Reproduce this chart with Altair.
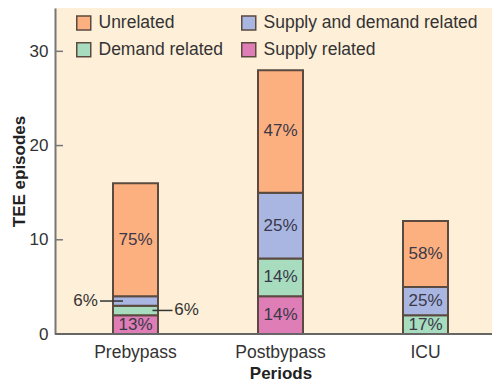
import altair as alt
import pandas as pd

periods = ["Prebypass", "Postbypass", "ICU"]
stack_order = ["Supply related", "Demand related", "Supply and demand related", "Unrelated"]
legend_order = ["Unrelated", "Demand related", "Supply and demand related", "Supply related"]
colors = {"Unrelated": "#FDB07F", "Supply and demand related": "#A9B6E2",
          "Demand related": "#A7DCBF", "Supply related": "#DF7DB6"}

supply = [2, 4, 0]
demand = [1, 4, 2]
both = [1, 7, 3]
unrelated = [12, 13, 7]

supply_pct = ["13%", "14%", ""]
demand_pct = ["6%", "14%", "17%"]
both_pct = ["6%", "25%", "25%"]
unrelated_pct = ["75%", "47%", "58%"]

y_ticks = [0, 10, 20, 30]

values = {"Supply related": supply, "Demand related": demand,
          "Supply and demand related": both, "Unrelated": unrelated}
pcts = {"Supply related": supply_pct, "Demand related": demand_pct,
        "Supply and demand related": both_pct, "Unrelated": unrelated_pct}

rows = []
for i, p in enumerate(periods):
    base = 0
    for k, cat in enumerate(stack_order):
        v = values[cat][i]
        rows.append({"period": p, "cat": cat, "order": k, "v": v,
                     "y0": base, "y1": base + v, "mid": base + v / 2,
                     "pct": pcts[cat][i]})
        base += v
df = pd.DataFrame(rows)
bars_df = df[df.v > 0]

left_key = ("Prebypass", "Supply and demand related")
right_key = ("Prebypass", "Demand related")
is_left = (df.period == left_key[0]) & (df.cat == left_key[1])
is_right = (df.period == right_key[0]) & (df.cat == right_key[1])
inside_df = df[(df.pct != "") & ~is_left & ~is_right]
left_df = df[is_left]
right_df = df[is_right]

FONT = "Liberation Sans"
W, H = 437, 326

xscale = alt.Scale(domain=periods, range=[8, 443], paddingInner=0, paddingOuter=0)
yscale = alt.Scale(domain=[0, 34.6], nice=False)

x_enc = alt.X("period:N", scale=xscale, sort=periods,
              axis=alt.Axis(title="Periods", labelAngle=0, ticks=False, domain=False,
                            labelFontSize=17.5, labelColor="#333333", labelPadding=9,
                            titleFontSize=17, titleFontWeight="bold", titleColor="#222222",
                            titlePadding=5, labelFont=FONT, titleFont=FONT))

bars = alt.Chart(bars_df).mark_bar(size=45, stroke="#5b4a3f", strokeWidth=2).encode(
    x=x_enc,
    y=alt.Y("y0:Q", scale=yscale,
            axis=alt.Axis(values=y_ticks, ticks=False, grid=False, labelPadding=7,
                          labelFontSize=17, labelColor="#333333", labelFont=FONT,
                          domainColor="#777777", domainWidth=2,
                          title="TEE episodes", titleFontSize=17, titleFontWeight="bold",
                          titleColor="#222222", titleFont=FONT, titlePadding=1)),
    y2="y1:Q",
    color=alt.Color("cat:N", scale=alt.Scale(domain=legend_order,
                                               range=[colors[c] for c in legend_order]),
                    legend=alt.Legend(title=None, orient="none", legendX=20, legendY=6,
                                      columns=2, columnPadding=14, rowPadding=6,
                                      symbolType="square", symbolSize=196,
                                      symbolStrokeColor="#5b4a3f", symbolStrokeWidth=1.5,
                                      symbolOpacity=1, labelLimit=400,
                                      labelFontSize=17.5, labelFont=FONT, labelColor="#333333",
                                      labelOffset=6, padding=0)),
)

inside = alt.Chart(inside_df).mark_text(fontSize=17, font=FONT, color="#3a3848").encode(
    x=alt.X("period:N", scale=xscale, sort=periods),
    y=alt.Y("mid:Q", scale=yscale),
    text="pct:N",
)

left_txt = alt.Chart(left_df).mark_text(fontSize=17, font=FONT, color="#333333", dx=-50).encode(
    x=alt.X("period:N", scale=xscale, sort=periods),
    y=alt.Y("mid:Q", scale=yscale), text="pct:N")
right_txt = alt.Chart(right_df).mark_text(fontSize=17, font=FONT, color="#333333", dx=51).encode(
    x=alt.X("period:N", scale=xscale, sort=periods),
    y=alt.Y("mid:Q", scale=yscale), text="pct:N")

left_line = alt.Chart(left_df).mark_tick(size=23, thickness=1.5, color="#333333",
                                          xOffset=-24, opacity=1).encode(
    x=alt.X("period:N", scale=xscale, sort=periods),
    y=alt.Y("mid:Q", scale=yscale))
right_line = alt.Chart(right_df).mark_tick(size=20, thickness=1.5, color="#333333",
                                            xOffset=27, opacity=1).encode(
    x=alt.X("period:N", scale=xscale, sort=periods),
    y=alt.Y("mid:Q", scale=yscale))

tick_df = pd.DataFrame({"t": y_ticks[1:]})
yticks = alt.Chart(tick_df).mark_rule(color="#777777", strokeWidth=1.5).encode(
    x=alt.value(0), x2=alt.value(8), y=alt.Y("t:Q", scale=yscale))

baseline = alt.Chart(tick_df).mark_rule(color="#666666", strokeWidth=2).encode(
    x=alt.value(0), x2=alt.value(W), y=alt.value(H))

chart = alt.layer(bars, inside, left_line, right_line, left_txt, right_txt, yticks, baseline).properties(
    width=W, height=H,
    autosize=alt.AutoSizeParams(type="none"),
    padding={"left": 47, "top": 0, "right": 0, "bottom": 51},
    background="white",
).configure_view(fill="#FEEFD9", stroke=None)

chart.save("out.html", embed_options={"renderer": "svg", "actions": False})
